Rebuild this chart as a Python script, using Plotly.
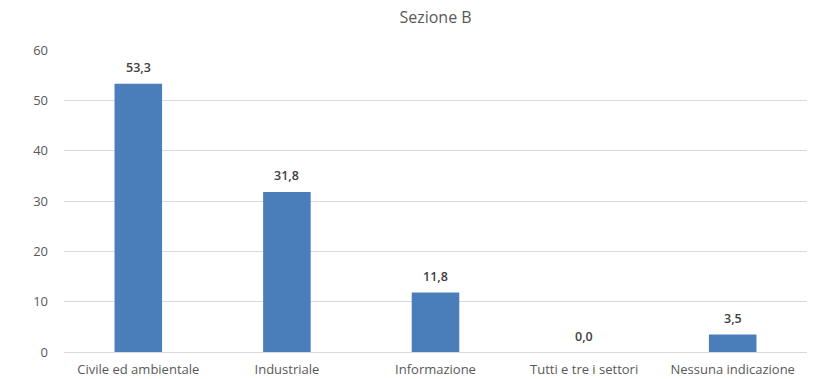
import plotly.graph_objects as go

categories = ["Civile ed ambientale", "Industriale", "Informazione",
              "Tutti e tre i settori", "Nessuna indicazione"]
values = [53.3, 31.8, 11.8, 0.0, 3.5]
value_labels = [f"{v:.1f}".replace(".", ",") for v in values]
y_ticks = [0, 10, 20, 30, 40, 50, 60]

fig = go.Figure(go.Bar(
    x=categories,
    y=values,
    marker=dict(color="#4a7ebb", line=dict(width=0)),
    hoverinfo="x+y",
))

# value labels sitting a fixed distance above each bar
for cat, v, lab in zip(categories, values, value_labels):
    fig.add_annotation(x=cat, y=v, text=lab, showarrow=False,
                       yanchor="middle", yshift=16,
                       font=dict(family="Open Sans", size=12.5, color="#404040",
                                 weight=600))

fig.update_layout(
    width=836, height=379,
    margin=dict(l=64, r=29, t=50, b=27),
    paper_bgcolor="white",
    plot_bgcolor="white",
    bargap=0.68,
    showlegend=False,
    title=dict(text="Sezione B", x=0.521, xanchor="center", y=0.955, yanchor="middle",
               font=dict(family="Open Sans", size=16, color="#595959")),
    font=dict(family="Open Sans", size=12, color="#595959"),
)
fig.update_xaxes(showgrid=False, showline=True, linecolor="#d9d9d9", linewidth=1,
                 ticks="", automargin=False, ticklabelstandoff=5,
                 tickfont=dict(size=13, color="#595959"))
fig.update_yaxes(range=[0, 60], tickvals=y_ticks, showgrid=True, gridcolor="#d9d9d9",
                 gridwidth=1, zeroline=False, ticks="", ticklabelstandoff=15,
                 automargin=False,
                 tickfont=dict(size=13, color="#595959"))

fig.write_html("out.html")
